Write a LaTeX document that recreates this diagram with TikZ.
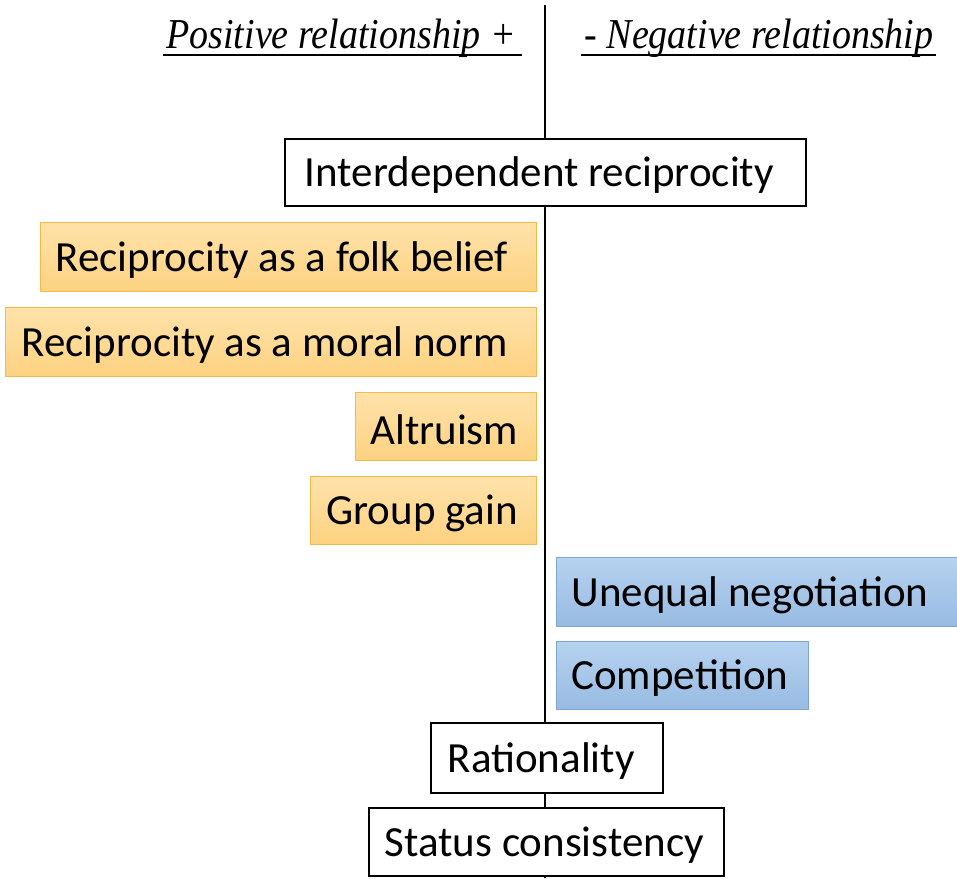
\documentclass[tikz,border=0pt]{standalone}
\usepackage{fontspec}
\setmainfont{Carlito}
\newfontfamily\hdrfont{Liberation Serif}
\newcommand{\lbx}[2]{\makebox[#1][l]{\raisebox{-3pt}[\height][\depth]{#2}}}
\definecolor{orfillA}{HTML}{FFE2AA}
\definecolor{orfillB}{HTML}{FDD281}
\definecolor{ordraw}{HTML}{F3BA4A}
\definecolor{blfillA}{HTML}{B6D2F0}
\definecolor{blfillB}{HTML}{98BBE2}
\definecolor{bldraw}{HTML}{7FA5D3}
\begin{document}
\begin{tikzpicture}[x=1pt,y=-1pt,
  basebox/.style={rectangle, anchor=north west, inner ysep=0pt, font=\fontsize{43}{48}\selectfont},
  whitebox/.style={basebox, draw=black, line width=1.5pt, fill=white},
  orbox/.style={basebox, draw=ordraw, line width=0.8pt, top color=orfillA, bottom color=orfillB},
  blbox/.style={basebox, draw=bldraw, line width=0.8pt, top color=blfillA, bottom color=blfillB},
  hdr/.style={font=\hdrfont\itshape\fontsize{38}{44}\selectfont, inner sep=0pt, anchor=base},
  uline/.style={line width=1.3pt}]
\useasboundingbox (0,0) rectangle (957,878);
\coordinate (top) at (545,5);
\coordinate (bot) at (545,878);
\draw[line width=1.5pt] (top) -- (bot);

\node[hdr] (pos) at (341,48) {\scalebox{1}[1.12]{Positive relationship +}};
\node[hdr] (neg) at (759,48) {\scalebox{1}[1.12]{- Negative relationship}};
\draw[uline] ([xshift=-3pt,yshift=-7pt]pos.base west) -- ([xshift=6pt,yshift=-7pt]pos.base east);
\draw[uline] ([xshift=-3pt,yshift=-7pt]neg.base west) -- ([xshift=2pt,yshift=-7pt]neg.base east);

\node[whitebox, inner xsep=20pt, minimum height=67pt] (ib) at (284,138) {\lbx{481pt}{Interdependent reciprocity}};
\node[orbox, inner xsep=15pt, minimum height=69pt] (folk) at (40,222) {\lbx{466pt}{Reciprocity as a folk belief}};
\node[orbox, inner xsep=16pt, minimum height=69pt] (moral) at (5,307) {\lbx{499pt}{Reciprocity as a moral norm}};
\node[orbox, inner xsep=15pt, minimum height=68pt] (altr) at (355,392) {\lbx{151pt}{Altruism}};
\node[orbox, inner xsep=16pt, minimum height=68pt] (group) at (310,476) {\lbx{194pt}{Group gain}};
\node[blbox, inner xsep=15pt, minimum height=69pt] (uneq) at (556,557) {\lbx{371pt}{Unequal negotiation}};
\node[blbox, inner xsep=15pt, minimum height=68pt] (comp) at (556,641) {\lbx{222pt}{Competition}};
\node[whitebox, inner xsep=17pt, minimum height=70pt] (rat) at (430,722) {\lbx{198pt}{Rationality}};
\node[whitebox, inner xsep=16pt, minimum height=68pt] (stat) at (368,807) {\lbx{323pt}{Status consistency}};
\end{tikzpicture}
\end{document}
